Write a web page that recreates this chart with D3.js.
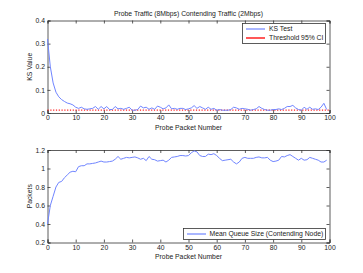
<!DOCTYPE html>
<html><head><meta charset="utf-8">
<script src="https://cdn.jsdelivr.net/npm/d3@7"></script>
<style>body{margin:0;background:#fff}svg{display:block}text{font-family:"Liberation Sans",Arial,sans-serif;fill:#222}</style>
</head><body><svg id="c" width="363" height="273"></svg>
<script>
const title = "Probe Traffic (8Mbps) Contending Traffic (2Mbps)";
const xTicks = [0,10,20,30,40,50,60,70,80,90,100];
const ksTicks = [0,0.1,0.2,0.3,0.4];
const qTicks = [0.2,0.4,0.6,0.8,1,1.2];
const ksValues = [0.32,0.2,0.13,0.09,0.07,0.058,0.05,0.043,0.04,0.035,0.025,0.02,0.025,0.018,0.016,0.018,0.02,0.028,0.016,0.028,0.018,0.028,0.015,0.015,0.028,0.018,0.02,0.016,0.02,0.025,0.012,0.012,0.015,0.03,0.022,0.025,0.016,0.022,0.016,0.03,0.025,0.018,0.022,0.035,0.018,0.02,0.016,0.02,0.02,0.015,0.018,0.022,0.032,0.02,0.028,0.022,0.016,0.025,0.016,0.02,0.012,0.015,0.012,0.012,0.012,0.015,0.025,0.022,0.016,0.02,0.018,0.016,0.012,0.015,0.018,0.028,0.02,0.015,0.012,0.012,0.015,0.015,0.018,0.015,0.02,0.028,0.028,0.033,0.022,0.015,0.012,0.025,0.016,0.025,0.016,0.018,0.015,0.025,0.042,0.015];
const threshold = 0.0125;
const queueValues = [0.4,0.6,0.7,0.8,0.85,0.86,0.9,0.93,0.96,0.97,0.965,1.02,1.03,1.03,1.05,1.05,1.055,1.06,1.07,1.08,1.07,1.07,1.075,1.08,1.1,1.13,1.1,1.11,1.12,1.115,1.12,1.125,1.115,1.1,1.11,1.085,1.13,1.1,1.095,1.08,1.085,1.09,1.07,1.09,1.12,1.125,1.13,1.14,1.14,1.135,1.14,1.17,1.19,1.18,1.14,1.13,1.13,1.155,1.15,1.16,1.14,1.11,1.085,1.09,1.095,1.1,1.07,1.05,1.07,1.11,1.12,1.11,1.11,1.11,1.12,1.125,1.115,1.115,1.12,1.09,1.075,1.08,1.09,1.13,1.125,1.14,1.15,1.13,1.11,1.09,1.11,1.09,1.095,1.12,1.11,1.1,1.09,1.07,1.07,1.09];

const svg = d3.select("#c");
const L = 47.5, R = 329.5;
const FS = 6.8;
const blue = "#7085ff", red = "#ff2020";

function panel(top, bottom, yDomain, yTicks, yLabel, fmt) {
  const x = d3.scaleLinear().domain([0,100]).range([L,R]);
  const y = d3.scaleLinear().domain(yDomain).range([bottom,top]);
  const g = svg.append("g");
  g.append("rect").attr("x",L).attr("y",top).attr("width",R-L).attr("height",bottom-top).attr("fill","#fff");
  const ax = g.append("g").attr("transform",`translate(0,${bottom})`).call(d3.axisBottom(x).tickValues(xTicks).tickSize(-3).tickPadding(2.5).tickFormat(d3.format("d")));
  const axt = g.append("g").attr("transform",`translate(0,${top})`).call(d3.axisTop(x).tickValues(xTicks).tickSize(-3).tickFormat(""));
  const ay = g.append("g").attr("transform",`translate(${L},0)`).call(d3.axisLeft(y).tickValues(yTicks).tickSize(-3).tickPadding(2.5).tickFormat(fmt));
  const ayr = g.append("g").attr("transform",`translate(${R},0)`).call(d3.axisRight(y).tickValues(yTicks).tickSize(-3).tickFormat(""));
  [ax,axt,ay,ayr].forEach(a=>{a.select(".domain").attr("stroke","#333").attr("stroke-width",0.8);a.selectAll(".tick line").attr("stroke","#333").attr("stroke-width",0.8);a.selectAll("text").attr("font-size",FS).attr("fill","#222");});
  g.append("text").attr("x",(L+R)/2).attr("y",bottom+16.5).attr("text-anchor","middle").attr("font-size",FS).text("Probe Packet Number");
  g.append("text").attr("transform",`translate(${31.5},${(top+bottom)/2}) rotate(-90)`).attr("text-anchor","middle").attr("font-size",FS).text(yLabel);
  return {x,y,g};
}

// top panel
const p1 = panel(20.5, 113, [0,0.4], ksTicks, "KS Value", d => d===0?"0":d3.format(".1f")(d));
p1.g.append("line").attr("x1",p1.x(0)).attr("x2",p1.x(100)).attr("y1",p1.y(threshold)).attr("y2",p1.y(threshold)).attr("stroke",red).attr("stroke-width",1.2).attr("stroke-dasharray","1.2,1.6");
p1.g.append("path").datum(ksValues).attr("fill","none").attr("stroke",blue).attr("stroke-width",1)
  .attr("d", d3.line().x((d,i)=>p1.x(i)).y(d=>p1.y(d)));
svg.append("text").attr("x",(L+R)/2).attr("y",15.5).attr("text-anchor","middle").attr("font-size",FS).text(title);
// legend top
const lg1 = svg.append("g");
lg1.append("rect").attr("x",242.5).attr("y",23.5).attr("width",83).attr("height",20).attr("fill","#fff").attr("stroke","#333").attr("stroke-width",0.8);
lg1.append("line").attr("x1",246).attr("x2",265).attr("y1",29).attr("y2",29).attr("stroke",blue).attr("stroke-width",1.2);
lg1.append("text").attr("x",269).attr("y",31.3).attr("font-size",FS).text("KS Test");
lg1.append("line").attr("x1",246).attr("x2",265).attr("y1",38).attr("y2",38).attr("stroke",red).attr("stroke-width",1.5);
lg1.append("text").attr("x",269).attr("y",40.3).attr("font-size",FS).text("Threshold 95% CI");

// bottom panel
const p2 = panel(150, 242.5, [0.2,1.2], qTicks, "Packets", d => d3.format("~g")(d));
p2.g.append("path").datum(queueValues).attr("fill","none").attr("stroke",blue).attr("stroke-width",1)
  .attr("d", d3.line().x((d,i)=>p2.x(i)).y(d=>p2.y(d)));
const lg2 = svg.append("g");
lg2.append("rect").attr("x",183.5).attr("y",228.5).attr("width",142).attr("height",11).attr("fill","#fff").attr("stroke","#333").attr("stroke-width",0.8);
lg2.append("line").attr("x1",187).attr("x2",206).attr("y1",234).attr("y2",234).attr("stroke",blue).attr("stroke-width",1.2);
lg2.append("text").attr("x",209.5).attr("y",236.4).attr("font-size",FS).text("Mean Queue Size (Contending Node)");
</script></body></html>
